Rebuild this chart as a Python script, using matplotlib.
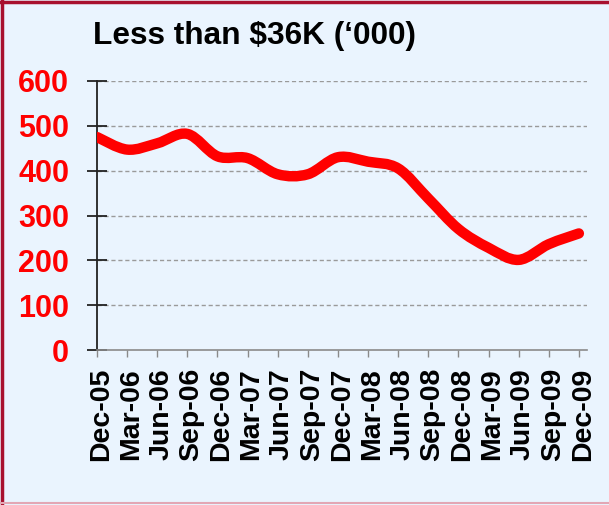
import matplotlib
matplotlib.use("Agg")
import matplotlib.pyplot as plt
import matplotlib.transforms as mtransforms
from matplotlib.path import Path
from matplotlib.patches import PathPatch
from matplotlib.lines import Line2D
import numpy as np

plt.rcParams['font.family'] = ['Liberation Sans', 'DejaVu Sans']

# Quarterly values ('000)
quarters = ["Dec-05", "Mar-06", "Jun-06", "Sep-06", "Dec-06", "Mar-07", "Jun-07",
            "Sep-07", "Dec-07", "Mar-08", "Jun-08", "Sep-08", "Dec-08", "Mar-09",
            "Jun-09", "Sep-09", "Dec-09"]
values = [475, 447, 461, 482, 432, 428, 392, 392, 430, 420, 405, 338, 270, 228,
          201, 236, 260]
y_ticks = [0, 100, 200, 300, 400, 500, 600]
title = "Less than $36K (\u2018000)"

BG = "#EAF4FE"
RED = "#FF0000"

fig = plt.figure(figsize=(6.09, 5.05), dpi=100, facecolor=BG)
ax = fig.add_axes([97 / 609, 1 - 350 / 505, 490 / 609, 269 / 505])
ax.set_facecolor(BG)

# Smoothed line: Catmull-Rom segments expressed as cubic Bezier curves
x = np.arange(len(values), dtype=float)
y = np.array(values, dtype=float)
pts = np.column_stack([x, y])
ext = np.vstack([pts[0], pts, pts[-1]])
verts = [tuple(pts[0])]
codes = [Path.MOVETO]
for i in range(len(pts) - 1):
    p0, p1, p2, p3 = ext[i], ext[i + 1], ext[i + 2], ext[i + 3]
    c1 = p1 + (p2 - p0) / 6.0
    c2 = p2 - (p3 - p1) / 6.0
    verts += [tuple(c1), tuple(c2), tuple(p2)]
    codes += [Path.CURVE4] * 3
patch = PathPatch(Path(verts, codes), facecolor="none", edgecolor=RED,
                  linewidth=7.5, capstyle="round", joinstyle="round", zorder=3)
ax.add_patch(patch)

ax.set_xlim(0, 16.27)
ax.set_ylim(0, 600)

# Grid
ax.set_yticks(y_ticks)
for v in y_ticks[1:]:
    ax.axhline(v, color="#9A9A9A", linewidth=1.0, linestyle=(0, (3, 2)), zorder=1)

ax.set_yticklabels([str(v) for v in y_ticks], color=RED, fontsize=22,
                   fontweight="bold")
ax.tick_params(axis="y", direction="inout", length=14, width=1.3, color="#222222",
               pad=13)

ax.set_xticks(x)
ax.set_xticklabels(quarters, rotation=90, fontsize=20.5, fontweight="bold",
                   color="black", va="top", ha="center")
ax.tick_params(axis="x", direction="out", length=5, width=1.0, color="#8A8A8A",
               pad=8)
shift = mtransforms.ScaledTranslation(4 / 100, 0, fig.dpi_scale_trans)
for lbl in ax.get_xticklabels():
    lbl.set_transform(lbl.get_transform() + shift)

for side in ("top", "right"):
    ax.spines[side].set_visible(False)
ax.spines["left"].set_color("#222222")
ax.spines["left"].set_linewidth(1.3)
ax.spines["bottom"].set_color("#8A8A8A")
ax.spines["bottom"].set_linewidth(1.2)

fig.text(93 / 609, 1 - 44 / 505, title, fontsize=22.8, fontweight="bold",
         color="black", ha="left", va="baseline")

# Frame around the panel
fig.add_artist(Line2D([0.0025, 0.0025], [0, 1], transform=fig.transFigure,
                      color="#A8102E", linewidth=2.5))
fig.add_artist(Line2D([0, 1], [0.996, 0.996], transform=fig.transFigure,
                      color="#A8102E", linewidth=2.5))
fig.add_artist(Line2D([0, 1], [0.003, 0.003], transform=fig.transFigure,
                      color="#E3A6B4", linewidth=1.5))

fig.savefig("out.png", dpi=100, facecolor=BG)
